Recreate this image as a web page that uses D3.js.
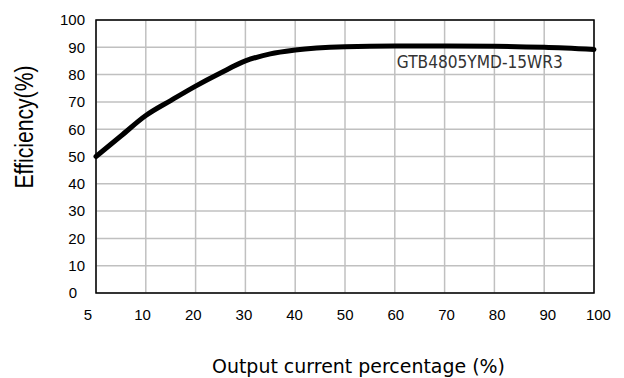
<!DOCTYPE html>
<html>
<head>
<meta charset="utf-8">
<script src="https://cdn.jsdelivr.net/npm/d3@7/dist/d3.min.js"></script>
<style>
  html, body { margin: 0; padding: 0; background: #fff; }
  svg { display: block; }
</style>
</head>
<body>
<svg id="chart" width="624" height="378"></svg>
<script>
// x axis is not linear: 5, 10, 20 ... 100 are equally spaced
const xTicks = [5, 10, 20, 30, 40, 50, 60, 70, 80, 90, 100];
const yTicks = [0, 10, 20, 30, 40, 50, 60, 70, 80, 90, 100];

// efficiency curve
const loadPct = [5, 7.5, 10, 15, 20, 25, 30, 35, 40, 50, 60, 70, 80, 90, 100];
const efficiency = [50, 57.5, 65, 70.5, 75.8, 80.6, 85, 87.6, 89, 90.2, 90.5, 90.5, 90.4, 90, 89.2];

const seriesName = 'GTB4805YMD-15WR3';

const margin = { top: 20, right: 30, bottom: 85, left: 96 };
const width = 624, height = 378;
const plotW = width - margin.left - margin.right;
const plotH = height - margin.top - margin.bottom;

const svg = d3.select('#chart');
const g = svg.append('g').attr('transform', 'translate(' + margin.left + ',' + margin.top + ')');

// polylinear scale so the uneven ticks sit on even gridlines
const x = d3.scaleLinear()
  .domain(xTicks)
  .range(xTicks.map((d, i) => i * plotW / (xTicks.length - 1)));
const y = d3.scaleLinear().domain([0, 100]).range([plotH, 0]);

// gridlines
g.append('g')
  .selectAll('line')
  .data(xTicks)
  .enter()
  .append('line')
  .attr('x1', d => x(d)).attr('x2', d => x(d))
  .attr('y1', 0).attr('y2', plotH)
  .attr('stroke', '#c0c0c0').attr('stroke-width', 1.5);

g.append('g')
  .selectAll('line')
  .data(yTicks)
  .enter()
  .append('line')
  .attr('x1', 0).attr('x2', plotW)
  .attr('y1', d => y(d)).attr('y2', d => y(d))
  .attr('stroke', '#c0c0c0').attr('stroke-width', 1.5);

// frame
g.append('rect')
  .attr('width', plotW).attr('height', plotH)
  .attr('fill', 'none').attr('stroke', '#000').attr('stroke-width', 1.5);

// axes (labels only, lines drawn by the frame)
const xAxis = g.append('g')
  .attr('transform', 'translate(0,' + plotH + ')')
  .call(d3.axisBottom(x).tickValues(xTicks).tickSize(0).tickPadding(16).tickFormat(d3.format('d')));
const yAxis = g.append('g')
  .call(d3.axisLeft(y).tickValues(yTicks).tickSize(0).tickPadding(11).tickFormat(d3.format('d')));

[xAxis, yAxis].forEach(a => {
  a.select('.domain').remove();
  a.selectAll('text')
    .attr('fill', '#000')
    .style('font-family', '"Liberation Sans", Arial, sans-serif')
    .style('font-size', '15px');
});
// labels in the original drift a little from their gridlines
xAxis.selectAll('text').attr('dx', (d, i) => i === 0 ? -8.5 : -3.7 + (i - 1) * 0.85);
yAxis.selectAll('text').filter(d => d === 0).attr('dx', -8);

// curve
const line = d3.line()
  .x((d, i) => x(loadPct[i]))
  .y(d => y(d))
  .curve(d3.curveMonotoneX);

g.append('path')
  .datum(efficiency)
  .attr('d', line)
  .attr('fill', 'none')
  .attr('stroke', '#000')
  .attr('stroke-width', 5)
  .attr('stroke-linecap', 'round');

// series label
g.append('text')
  .attr('x', x(60) + 2)
  .attr('y', y(90) + 21)
  .attr('textLength', 166)
  .attr('lengthAdjust', 'spacingAndGlyphs')
  .text(seriesName)
  .style('font-family', '"DejaVu Sans", Verdana, sans-serif')
  .style('font-size', '17px')
  .attr('fill', '#333');

// axis titles
svg.append('text')
  .attr('transform', 'translate(33,127) rotate(-90)')
  .attr('text-anchor', 'middle')
  .attr('textLength', 123)
  .attr('lengthAdjust', 'spacingAndGlyphs')
  .text('Efficiency(%)')
  .style('font-family', '"Liberation Sans Narrow", "Liberation Sans", Arial, sans-serif')
  .style('font-size', '25px');

svg.append('text')
  .attr('x', 358.5)
  .attr('y', 373)
  .attr('text-anchor', 'middle')
  .attr('textLength', 293)
  .attr('lengthAdjust', 'spacingAndGlyphs')
  .text('Output current percentage (%)')
  .style('font-family', '"DejaVu Sans", Verdana, sans-serif')
  .style('font-size', '20px');
</script>
</body>
</html>
